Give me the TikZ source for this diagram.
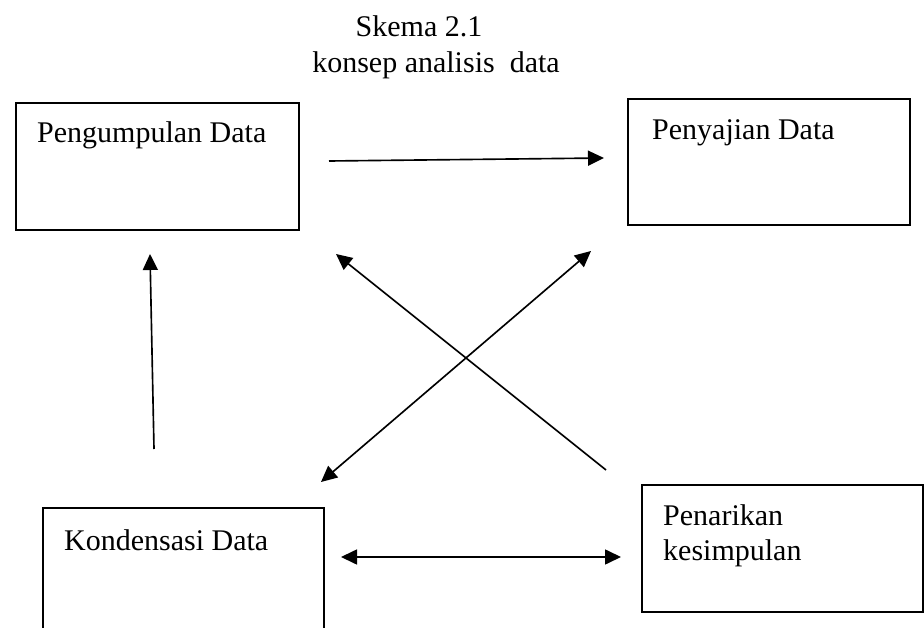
\documentclass[tikz,border=0pt]{standalone}
\usepackage{fontspec}
\setmainfont{Liberation Serif}
\usetikzlibrary{arrows.meta}

\tikzset{
  kotak/.style={draw,line width=1.3pt,anchor=north west,inner sep=0pt},
  teks/.style={anchor=base west,inner sep=0pt},
  panah/.style={line width=1.4pt,-{Triangle[length=0.48cm,width=0.45cm]}},
  panahdua/.style={line width=1.4pt,{Triangle[length=0.48cm,width=0.45cm]}-{Triangle[length=0.48cm,width=0.45cm]}}
}

\begin{document}
\begin{tikzpicture}[x=0.03cm,y=-0.03cm,font=\fontsize{25.6}{30}\selectfont]
  \clip (0,0) rectangle (924,628);
  % judul
  \node[anchor=base] (judul) at (419,37) {Skema 2.1};
  \node[anchor=base] (subjudul) at (436,73) {konsep analisis~ data};
  % kotak
  \node[kotak,minimum width=8.49cm,minimum height=3.81cm] (kumpul) at (15,102) {};
  \node[kotak,minimum width=8.46cm,minimum height=3.78cm] (saji) at (627,98) {};
  \node[kotak,minimum width=8.43cm,minimum height=4.05cm] (kondensasi) at (42,507) {};
  \node[kotak,minimum width=8.43cm,minimum height=3.81cm] (tarik) at (641,484) {};
  \node[teks] (tkumpul) at (37,143) {Pengumpulan Data};
  \node[teks] (tsaji) at (652,140) {Penyajian Data};
  \node[teks] (tkondensasi) at (64,550) {Kondensasi Data};
  \node[teks] (ttarik) at (663,525) {Penarikan};
  \node[teks] (ttarik2) at (663,560) {kesimpulan};
  % ujung panah
  \coordinate (a1) at (329,161);
  \coordinate (a2) at (604,158);
  \coordinate (b1) at (154,449);
  \coordinate (b2) at (150,254);
  \coordinate (c1) at (606,470);
  \coordinate (c2) at (336,254);
  \coordinate (d1) at (591,251);
  \coordinate (d2) at (321,482);
  \coordinate (e1) at (341,557);
  \coordinate (e2) at (621,557);
  % panah
  \draw[panah] (a1) -- (a2);
  \draw[panah] (b1) -- (b2);
  \draw[panah] (c1) -- (c2);
  \draw[panahdua] (d1) -- (d2);
  \draw[panahdua] (e1) -- (e2);
\end{tikzpicture}
\end{document}
